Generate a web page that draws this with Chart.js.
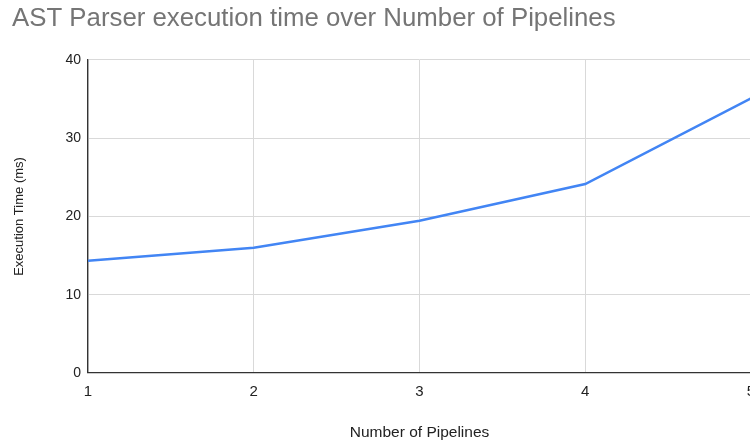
<!DOCTYPE html>
<html>
<head>
<meta charset="utf-8">
<script src="https://cdn.jsdelivr.net/npm/chart.js@4"></script>
<style>
  html, body { margin: 0; padding: 0; background: #fff; overflow: hidden; }
  #wrap { width: 751px; height: 442px; position: relative; }
</style>
</head>
<body>
<div id="wrap"><canvas id="astChart"></canvas></div>
<script>
// number of pipelines on the x axis
let pipelines = ['1', '2', '3', '4', '5'];

// parser execution time in ms
let execTimes = [14.35, 16.0, 19.45, 24.15, 35.1];

// y axis range
let yMin = 0;
let yMax = 40;
let yStep = 10;

const fontFamily = '"Liberation Sans", Arial, sans-serif';

const astData = {
    labels: pipelines,
    datasets: [{
        label: 'Execution Time (ms)',
        data: execTimes,
        borderColor: '#4285f4',
        backgroundColor: '#4285f4',
        borderWidth: 2.5,
        pointRadius: 0,
        tension: 0,
        fill: false
    }]
};

const astConfig = {
    type: 'line',
    data: astData,
    options: {
        responsive: true,
        maintainAspectRatio: false,
        animation: false,
        layout: {
            autoPadding: false,
            padding: { left: 12, top: 0, right: 0, bottom: 0 }
        },
        plugins: {
            legend: { display: false },
            tooltip: { enabled: false },
            title: {
                display: true,
                text: 'AST Parser execution time over Number of Pipelines',
                align: 'start',
                color: '#757575',
                font: { family: fontFamily, size: 25.8, weight: 'normal' },
                padding: { top: 3, bottom: 26 }
            }
        },
        scales: {
            x: {
                offset: false,
                grid: { color: '#d9d9d9', drawTicks: false },
                border: { color: '#333', width: 1.3 },
                ticks: {
                    color: '#222',
                    padding: 10,
                    maxRotation: 0,
                    font: { family: fontFamily, size: 15 }
                },
                title: {
                    display: true,
                    text: 'Number of Pipelines',
                    color: '#222',
                    font: { family: fontFamily, size: 15.5 },
                    padding: { top: 0, bottom: 0 }
                },
                // label "5" is allowed to run off the right edge like the original
                afterFit: function (scale) {
                    scale.height = 69;
                    scale.paddingLeft = 0;
                    scale.paddingRight = 0;
                }
            },
            y: {
                min: yMin,
                max: yMax,
                grid: { color: '#d9d9d9', drawTicks: false },
                border: { color: '#333', width: 1.3 },
                ticks: {
                    stepSize: yStep,
                    color: '#222',
                    padding: 7,
                    font: { family: fontFamily, size: 14 }
                },
                title: {
                    display: true,
                    text: 'Execution Time (ms)',
                    color: '#222',
                    font: { family: fontFamily, size: 13 },
                    padding: { top: 0, bottom: 0 }
                },
                afterFit: function (scale) {
                    scale.width = 76;
                    scale.paddingTop = 0;
                    scale.paddingBottom = 0;
                }
            }
        }
    }
};

const astChart = new Chart(
    document.getElementById('astChart'),
    astConfig
);
</script>
</body>
</html>
